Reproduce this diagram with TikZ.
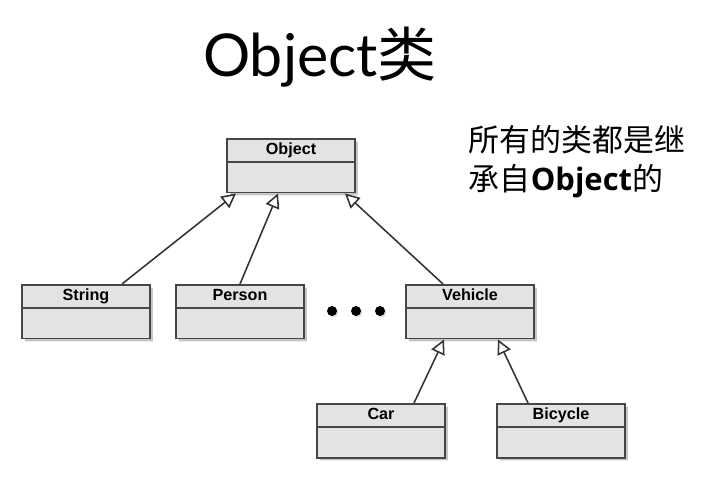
\documentclass[tikz,border=0pt]{standalone}
\usepackage{fontspec}
\setmainfont{Liberation Sans}
\newfontfamily\titlefont{Lato}
\newfontfamily\cjk{Noto Sans CJK SC}
\newfontfamily\latinbold{Open Sans}
\usepackage{xcolor}
\usepackage{tikz}
\usetikzlibrary{shapes.multipart, arrows.meta, shadows, calc}
\definecolor{classfill}{RGB}{227,227,227}
\definecolor{classdraw}{RGB}{70,70,70}
\definecolor{linkgray}{RGB}{50,50,50}
\tikzset{
    classbox/.style={rectangle split, rectangle split parts=2, anchor=north,
                     minimum width=3.2cm, inner xsep=0pt, inner ysep=0pt,
                     rectangle split empty part height=0.72cm,
                     rectangle split empty part depth=0pt,
                     draw=classdraw, fill=classfill, line width=1.3pt,
                     drop shadow={shadow xshift=2pt, shadow yshift=-2pt, opacity=0.45},
                     font=\fontsize{11.5}{13}\selectfont\bfseries},
    inherit/.style={line width=1.1pt, linkgray,
                    -{Triangle[length=0.36cm, width=0.36cm, open, fill=white]}}
}
\newcommand{\cname}[1]{\rule[-0.16cm]{0pt}{0.53cm}#1}

\begin{document}
\begin{tikzpicture}[x=0.025cm, y=-0.025cm]
    \useasboundingbox (0,0) rectangle (702,504);

    % title
    \node[font=\fontsize{42}{46}\selectfont, anchor=base] (title) at (320,77)
        {\titlefont Object\cjk 类};

    % note
    \node[font=\fontsize{22}{28}\selectfont\cjk, align=left, anchor=north west] (note) at (464,120)
        {所有的类都是继\\承自{\latinbold\bfseries Object}的};

    % classes
    \node[classbox] (object) at (291,138) {\cname{Object} \nodepart{two}};
    \node[classbox] (string) at (86,284) {\cname{String} \nodepart{two}};
    \node[classbox] (person) at (240,284) {\cname{Person} \nodepart{two}};
    \node[classbox] (vehicle) at (470,284) {\cname{Vehicle} \nodepart{two}};
    \node[classbox] (car) at (381,403) {\cname{Car} \nodepart{two}};
    \node[classbox] (bicycle) at (561,403) {\cname{Bicycle} \nodepart{two}};

    % dots
    \foreach \dx in {332,356,380}
        \fill[black, drop shadow={shadow xshift=1pt, shadow yshift=-1pt, opacity=0.3}] (\dx,311) circle (5);

    % inheritance
    \draw[inherit] ($(string.north)+(36,0)$) -- ($(object.south)+(-55,0)$);
    \draw[inherit] (person.north) -- ($(object.south)+(-13,0)$);
    \draw[inherit] ($(vehicle.north)+(-27,0)$) -- ($(object.south)+(54,0)$);
    \draw[inherit] ($(car.north)+(33,0)$) -- ($(vehicle.south)+(-26,0)$);
    \draw[inherit] ($(bicycle.north)+(-33,0)$) -- ($(vehicle.south)+(28,0)$);
\end{tikzpicture}
\end{document}
